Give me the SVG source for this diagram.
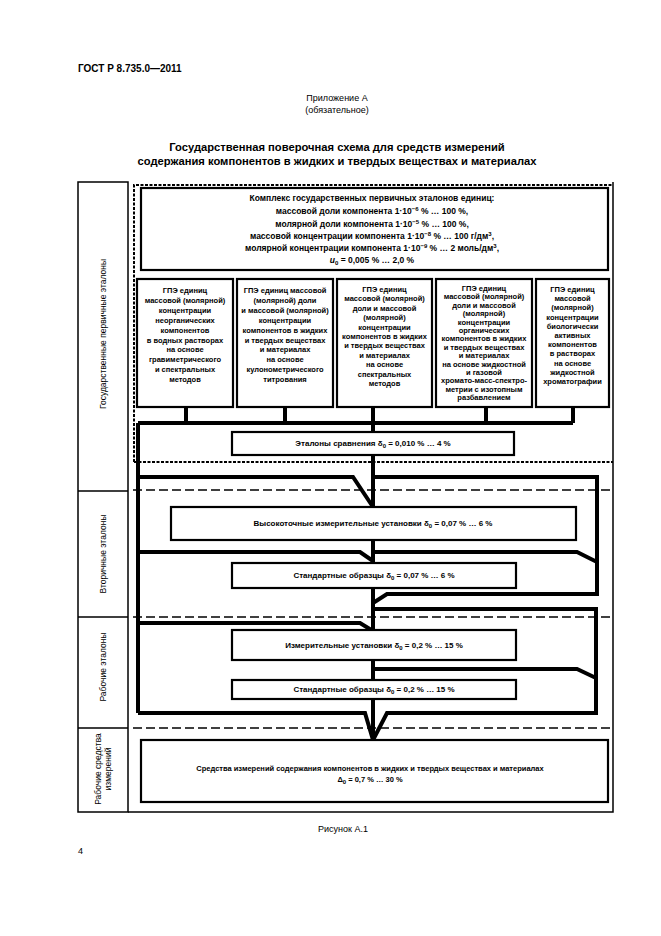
<svg xmlns="http://www.w3.org/2000/svg" width="661" height="936" viewBox="0 0 661 936">
<style>
text{font-family:"Liberation Sans",Arial,sans-serif;fill:#000}
.b{font-weight:bold}
.box{fill:#fff;stroke:#000;stroke-width:2.2}
.frame{fill:none;stroke:#000;stroke-width:1.5}
.dot{fill:none;stroke:#000;stroke-width:2;stroke-dasharray:3 1.5}
.dash{fill:none;stroke:#000;stroke-width:1.5;stroke-dasharray:9 4}
.flow{fill:none;stroke:#000;stroke-width:4;stroke-linejoin:miter}
.bt{font-size:7.5px;font-weight:bold;text-anchor:middle}
.mt{font-size:8px;font-weight:bold;text-anchor:middle}
.side{font-size:8.5px;text-anchor:middle}
</style>
<rect width="661" height="936" fill="#fff"/>
<g id="header">
<text x="78" y="72" font-size="10" class="b">ГОСТ Р 8.735.0—2011</text>
<text x="337" y="101" font-size="9" text-anchor="middle">Приложение А</text>
<text x="337" y="113" font-size="9" text-anchor="middle">(обязательное)</text>
<text x="337" y="151" font-size="11.2" class="b" text-anchor="middle">Государственная поверочная схема для средств измерений</text>
<text x="337" y="165" font-size="11.2" class="b" text-anchor="middle">содержания компонентов в жидких и твердых веществах и материалах</text>
</g>
<g id="frame">
<rect class="frame" x="78" y="182" width="50" height="630"/>
<path class="frame" d="M78,491H128M78,617H128M78,728H128M128,812H613V182"/>
<path class="dot" d="M134,462V185H613M134,462H613"/>
<path class="dash" d="M133,490H613M133,617H613M133,728H613"/>
</g>
<g id="side-labels">
<text class="side" transform="translate(103,334) rotate(-90)" dy="3">Государственные первичные эталоны</text>
<text class="side" transform="translate(103,554) rotate(-90)" dy="3">Вторичные эталоны</text>
<text class="side" transform="translate(103,667) rotate(-90)" dy="3">Рабочие эталоны</text>
<text class="side" transform="translate(103,769) rotate(-90)"><tspan x="0" y="-2">Рабочие средства</tspan><tspan x="0" y="8">измерений</tspan></text>
</g>
<g id="connectors">
<path class="flow" d="M373,407V740"/>
<path class="flow" d="M186,407V423M285,407V423M486,407V423M573,407V423M138,423H573M138,423V713"/>
<path class="flow" d="M138,477H353L373,507"/>
<path class="flow" d="M138,552H360L373,561"/>
<path class="flow" d="M138,623H360L373,631"/>
<path class="flow" d="M138,713H365L373,740"/>
<path class="flow" d="M373,477H597V594H387L373,603"/>
<path class="flow" d="M373,552H577L597,562"/>
<path class="flow" d="M373,609H596V713H387L373,740"/>
<path class="flow" d="M373,669H577L596,678"/>
</g>
<g id="complex">
<rect class="box" x="141" y="188" width="467" height="82" stroke-width="2.5"/>
<text x="372" y="201" font-size="8.5" class="b" text-anchor="middle">Комплекс государственных первичных эталонов единиц:</text>
<text x="372" y="214" font-size="8.5" class="b" text-anchor="middle">массовой доли компонента 1·10<tspan dy="-3" font-size="6">−6</tspan><tspan dy="3"> % … 100 %,</tspan></text>
<text x="372" y="227" font-size="8.5" class="b" text-anchor="middle">молярной доли компонента 1·10<tspan dy="-3" font-size="6">−5</tspan><tspan dy="3"> % … 100 %,</tspan></text>
<text x="372" y="239" font-size="8.5" class="b" text-anchor="middle">массовой концентрации компонента 1·10<tspan dy="-3" font-size="6">−8</tspan><tspan dy="3"> % … 100 г/дм</tspan><tspan dy="-3" font-size="6">3</tspan><tspan dy="3">,</tspan></text>
<text x="372" y="251" font-size="8.5" class="b" text-anchor="middle">молярной концентрации компонента 1·10<tspan dy="-3" font-size="6">−9</tspan><tspan dy="3"> % … 2 моль/дм</tspan><tspan dy="-3" font-size="6">3</tspan><tspan dy="3">,</tspan></text>
<text x="372" y="263" font-size="8.5" class="b" text-anchor="middle"><tspan font-style="italic">u</tspan><tspan dy="2" font-size="6">0</tspan><tspan dy="-2"> = 0,005 % … 2,0 %</tspan></text>
</g>
<g id="gpe1">
<rect class="box" x="137" y="279" width="96" height="128"/>
<text class="bt" y="293"><tspan x="185">ГПЭ единиц</tspan><tspan x="185" dy="9.9">массовой (молярной)</tspan><tspan x="185" dy="9.9">концентрации</tspan><tspan x="185" dy="9.9">неорганических</tspan><tspan x="185" dy="9.9">компонентов</tspan><tspan x="185" dy="9.9">в водных растворах</tspan><tspan x="185" dy="9.9">на основе</tspan><tspan x="185" dy="9.9">гравиметрического</tspan><tspan x="185" dy="9.9">и спектральных</tspan><tspan x="185" dy="9.9">методов</tspan></text>
</g>
<g id="gpe2">
<rect class="box" x="237" y="279" width="96" height="128"/>
<text class="bt" y="293"><tspan x="285">ГПЭ единиц массовой</tspan><tspan x="285" dy="9.9">(молярной) доли</tspan><tspan x="285" dy="9.9">и массовой (молярной)</tspan><tspan x="285" dy="9.9">концентрации</tspan><tspan x="285" dy="9.9">компонентов в жидких</tspan><tspan x="285" dy="9.9">и твердых веществах</tspan><tspan x="285" dy="9.9">и материалах</tspan><tspan x="285" dy="9.9">на основе</tspan><tspan x="285" dy="9.9">кулонометрического</tspan><tspan x="285" dy="9.9">титрования</tspan></text>
</g>
<g id="gpe3">
<rect class="box" x="337" y="279" width="95" height="128"/>
<text class="bt" y="292"><tspan x="384.5">ГПЭ единиц</tspan><tspan x="384.5" dy="9.4">массовой (молярной)</tspan><tspan x="384.5" dy="9.4">доли и массовой</tspan><tspan x="384.5" dy="9.4">(молярной)</tspan><tspan x="384.5" dy="9.4">концентрации</tspan><tspan x="384.5" dy="9.4">компонентов в жидких</tspan><tspan x="384.5" dy="9.4">и твердых веществах</tspan><tspan x="384.5" dy="9.4">и материалах</tspan><tspan x="384.5" dy="9.4">на основе</tspan><tspan x="384.5" dy="9.4">спектральных</tspan><tspan x="384.5" dy="9.4">методов</tspan></text>
</g>
<g id="gpe4">
<rect class="box" x="436" y="279" width="96" height="128"/>
<text class="bt" y="291" font-size="7.2"><tspan x="484">ГПЭ единиц</tspan><tspan x="484" dy="8.4">массовой (молярной)</tspan><tspan x="484" dy="8.4">доли и массовой</tspan><tspan x="484" dy="8.4">(молярной)</tspan><tspan x="484" dy="8.4">концентрации</tspan><tspan x="484" dy="8.4">органических</tspan><tspan x="484" dy="8.4">компонентов в жидких</tspan><tspan x="484" dy="8.4">и твердых веществах</tspan><tspan x="484" dy="8.4">и материалах</tspan><tspan x="484" dy="8.4">на основе жидкостной</tspan><tspan x="484" dy="8.4">и газовой</tspan><tspan x="484" dy="8.4">хромато-масс-спектро-</tspan><tspan x="484" dy="8.4">метрии с изотопным</tspan><tspan x="484" dy="8.4">разбавлением</tspan></text>
</g>
<g id="gpe5">
<rect class="box" x="536" y="279" width="73" height="128"/>
<text class="bt" y="292" font-size="7.2"><tspan x="572.5">ГПЭ единиц</tspan><tspan x="572.5" dy="9.2">массовой</tspan><tspan x="572.5" dy="9.2">(молярной)</tspan><tspan x="572.5" dy="9.2">концентрации</tspan><tspan x="572.5" dy="9.2">биологически</tspan><tspan x="572.5" dy="9.2">активных</tspan><tspan x="572.5" dy="9.2">компонентов</tspan><tspan x="572.5" dy="9.2">в растворах</tspan><tspan x="572.5" dy="9.2">на основе</tspan><tspan x="572.5" dy="9.2">жидкостной</tspan><tspan x="572.5" dy="9.2">хроматографии</tspan></text>
</g>
<g id="comparison">
<rect class="box" x="232" y="432" width="282" height="23"/>
<text class="mt" x="373" y="446">Эталоны сравнения δ<tspan dy="2" font-size="6">0</tspan><tspan dy="-2"> = 0,010 % … 4 %</tspan></text>
</g>
<g id="high-precision">
<rect class="box" x="171" y="507" width="405" height="33"/>
<text class="mt" x="373" y="526">Высокоточные измерительные установки δ<tspan dy="2" font-size="6">0</tspan><tspan dy="-2"> = 0,07 % … 6 %</tspan></text>
</g>
<g id="rm-secondary">
<rect class="box" x="232" y="563" width="284" height="25"/>
<text class="mt" x="374" y="578">Стандартные образцы δ<tspan dy="2" font-size="6">0</tspan><tspan dy="-2"> = 0,07 % … 6 %</tspan></text>
</g>
<g id="working-installations">
<rect class="box" x="232" y="630" width="284" height="30"/>
<text class="mt" x="374" y="648">Измерительные установки δ<tspan dy="2" font-size="6">0</tspan><tspan dy="-2"> = 0,2 % … 15 %</tspan></text>
</g>
<g id="rm-working">
<rect class="box" x="232" y="680" width="284" height="19"/>
<text class="mt" x="374" y="692">Стандартные образцы δ<tspan dy="2" font-size="6">0</tspan><tspan dy="-2"> = 0,2 % … 15 %</tspan></text>
</g>
<g id="instruments">
<rect class="box" x="141" y="740" width="467" height="62" stroke-width="2.5"/>
<text class="bt" x="370" y="771">Средства измерений содержания компонентов в жидких и твердых веществах и материалах</text>
<text class="bt" x="370" y="782">Δ<tspan dy="2" font-size="6">0</tspan><tspan dy="-2"> = 0,7 % … 30 %</tspan></text>
</g>
<g id="footer">
<text x="343" y="832" font-size="9" text-anchor="middle">Рисунок А.1</text>
<text x="78" y="854" font-size="9">4</text>
</g>
</svg>
